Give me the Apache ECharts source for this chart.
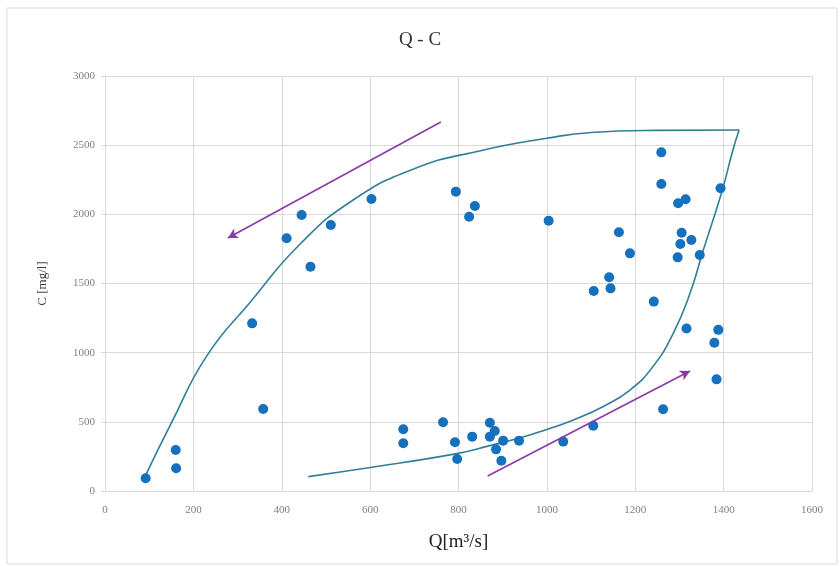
<!DOCTYPE html>
<html>
<head>
<meta charset="utf-8">
<script src="https://cdn.jsdelivr.net/npm/echarts@6/dist/echarts.min.js"></script>
<style>html,body{margin:0;padding:0;background:#fff;}#c{width:840px;height:566px;}</style>
</head>
<body>
<div id="c"></div>
<script>
// Observed points (Q, C)
const qValues = [92,160,161,333,358,411,445,465,511,603,675,675,765,792,797,794,824,837,831,871,882,871,901,885,897,937,1004,1037,1105,1106,1141,1144,1163,1188,1242,1259,1259,1263,1297,1314,1305,1302,1296,1327,1346,1316,1388,1379,1384,1393];
const cValues = [92,296,164,1212,593,1827,1995,1621,1923,2111,446,345,497,352,231,2164,1983,2060,393,494,434,393,364,301,219,364,1954,357,472,1446,1545,1465,1870,1718,1369,2448,2219,591,2080,2109,1867,1785,1689,1814,1706,1175,1165,1072,807,2188];

// Hysteresis loop: rising limb (upper branch) and falling limb (lower branch)
const upperQ = [90,150,230,330,440,560,700,850,1000,1100,1250,1435];
const upperC = [100,490,975,1370,1780,2100,2330,2460,2550,2592,2607,2610];
const lowerQ = [1435,1421,1395,1354,1324,1286,1240,1188,1130,1060,1000,946,871,796,600,460];
const lowerC = [2610,2465,2152,1742,1429,1140,899,730,615,513,445,390,328,270,170,104];

// Direction arrows [from, to]
const arrow1 = [[760,2668],[278,1829]];
const arrow2 = [[866,108],[1324,868]];

const xTicks = [0,200,400,600,800,1000,1200,1400,1600];
const yTicks = [0,500,1000,1500,2000,2500,3000];

const zip = (a,b) => a.map((v,i)=>[v,b[i]]);
const serif = '"Liberation Serif", "DejaVu Serif", serif';

const chart = echarts.init(document.getElementById('c'));
chart.setOption({
  animation: false,
  backgroundColor: '#fff',
  graphic: [{
    type: 'rect', shape: {x: 7, y: 8, width: 830, height: 556},
    style: {fill: 'none', stroke: '#d9d9d9', lineWidth: 1}, silent: true
  }],
  title: {
    text: 'Q - C', left: 'center', top: 26,
    textStyle: {fontFamily: serif, fontSize: 19, fontWeight: 'normal', color: '#333'}
  },
  grid: {left: 105, right: 28, top: 76, bottom: 75},
  xAxis: {
    type: 'value', min: xTicks[0], max: xTicks[xTicks.length-1], interval: xTicks[1]-xTicks[0],
    name: 'Q[m³/s]', nameLocation: 'middle', nameGap: 42,
    nameTextStyle: {fontFamily: serif, fontSize: 19, color: '#222'},
    axisLine: {show: true, lineStyle: {color: '#d9d9d9'}},
    axisTick: {show: false},
    axisLabel: {fontFamily: serif, fontSize: 11, color: '#7f7f7f', margin: 14, formatter: v => String(v)},
    splitLine: {show: true, lineStyle: {color: '#d9d9d9'}}
  },
  yAxis: {
    type: 'value', min: yTicks[0], max: yTicks[yTicks.length-1], interval: yTicks[1]-yTicks[0],
    name: 'C [mg/l]', nameLocation: 'middle', nameGap: 56, nameRotate: 90,
    nameTextStyle: {fontFamily: serif, fontSize: 13, color: '#404040'},
    axisLine: {show: true, lineStyle: {color: '#d9d9d9'}},
    axisTick: {show: true, length: 4, lineStyle: {color: '#d9d9d9'}},
    axisLabel: {fontFamily: serif, fontSize: 11, color: '#7f7f7f', margin: 10, formatter: v => String(v)},
    splitLine: {show: true, lineStyle: {color: '#d9d9d9'}}
  },
  series: [
    {
      type: 'line', data: zip(upperQ, upperC), smooth: 0.5, symbol: 'none',
      lineStyle: {color: '#2f7f98', width: 1.6}, z: 2
    },
    {
      type: 'line', data: zip(lowerQ, lowerC), smooth: 0.5, symbol: 'none',
      lineStyle: {color: '#2f7f98', width: 1.6}, z: 2
    },
    {
      type: 'scatter', data: zip(qValues, cValues), symbolSize: 10,
      itemStyle: {color: '#1570bd', opacity: 1}, z: 3
    },
    {
      type: 'line', data: [], symbol: 'none',
      markLine: {
        silent: true, symbol: ['none', 'arrow'], symbolSize: [8, 10],
        label: {show: false},
        lineStyle: {color: '#8a3aa8', width: 1.6, type: 'solid'},
        data: [
          [{coord: arrow1[0]}, {coord: arrow1[1]}],
          [{coord: arrow2[0]}, {coord: arrow2[1]}]
        ]
      }
    }
  ]
});
</script>
</body>
</html>
